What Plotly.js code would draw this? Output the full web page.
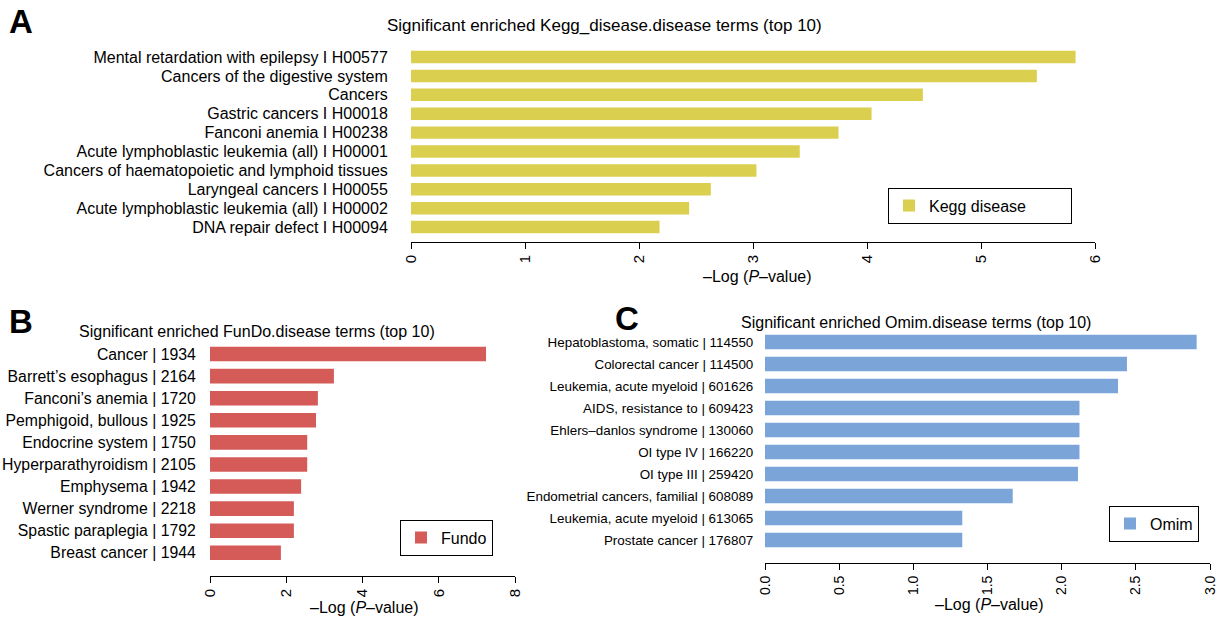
<!DOCTYPE html>
<html>
<head>
<meta charset="utf-8">
<script src="https://cdn.plot.ly/plotly-3.0.1.min.js"></script>
<style>html,body{margin:0;padding:0;background:#fff;}#chart{width:1223px;height:619px;}</style>
</head>
<body>
<div id="chart"></div>
<script>
// Panel A: KEGG disease
const keggTerms = [
  "Mental retardation with epilepsy I H00577",
  "Cancers of the digestive system",
  "Cancers",
  "Gastric cancers I H00018",
  "Fanconi anemia I H00238",
  "Acute lymphoblastic leukemia (all) I H00001",
  "Cancers of haematopoietic and lymphoid tissues",
  "Laryngeal cancers I H00055",
  "Acute lymphoblastic leukemia (all) I H00002",
  "DNA repair defect I H00094"
];
const keggValues = [5.83, 5.49, 4.49, 4.04, 3.75, 3.41, 3.03, 2.63, 2.44, 2.18];

// Panel B: FunDo
const fundoTerms = [
  "Cancer | 1934",
  "Barrett\u2019s esophagus | 2164",
  "Fanconi\u2019s anemia | 1720",
  "Pemphigoid, bullous | 1925",
  "Endocrine system | 1750",
  "Hyperparathyroidism | 2105",
  "Emphysema | 1942",
  "Werner syndrome | 2218",
  "Spastic paraplegia | 1792",
  "Breast cancer | 1944"
];
const fundoValues = [7.24, 3.25, 2.83, 2.78, 2.55, 2.55, 2.39, 2.20, 2.20, 1.86];

// Panel C: OMIM
const omimTerms = [
  "Hepatoblastoma, somatic | 114550",
  "Colorectal cancer | 114500",
  "Leukemia, acute myeloid | 601626",
  "AIDS, resistance to | 609423",
  "Ehlers\u2013danlos syndrome | 130060",
  "OI type IV | 166220",
  "OI type III | 259420",
  "Endometrial cancers, familial | 608089",
  "Leukemia, acute myeloid | 613065",
  "Prostate cancer | 176807"
];
const omimValues = [2.91, 2.44, 2.38, 2.12, 2.12, 2.12, 2.11, 1.67, 1.33, 1.33];

const W = 1223, H = 619;
const px = v => v / W;
const py = v => 1 - v / H;
const FONT = "Liberation Sans, Arial, sans-serif";

const traces = [
  {type:'bar', orientation:'h', x:keggValues, y:keggTerms, name:'Kegg disease',
   marker:{color:'#DBCF50'}, xaxis:'x', yaxis:'y', legend:'legend'},
  {type:'bar', orientation:'h', x:fundoValues, y:fundoTerms, name:'Fundo',
   marker:{color:'#D45B58'}, xaxis:'x2', yaxis:'y2', legend:'legend2'},
  {type:'bar', orientation:'h', x:omimValues, y:omimTerms, name:'Omim',
   marker:{color:'#7BA4D9'}, xaxis:'x3', yaxis:'y3', legend:'legend3'}
];

function xax(domain, range, dtick, anchor, fmt, size){
  return {domain:domain, range:range, dtick:dtick, tick0:0, anchor:anchor,
    showline:true, linecolor:'#000', linewidth:1, ticks:'outside', ticklen:6,
    tickcolor:'#000', tickangle:-90, showgrid:false, zeroline:false,
    tickformat:fmt, tickfont:{size:size, family:FONT, color:'#000'}, fixedrange:true};
}
function yax(domain, range, anchor, terms, size, gap){
  return {domain:domain, range:range, anchor:anchor, type:'category',
    tickmode:'array', tickvals:terms, ticktext:terms,
    showline:false, showgrid:false, zeroline:false, ticks:'outside',
    ticklen:gap, tickcolor:'rgba(0,0,0,0)',
    tickfont:{size:size, family:FONT, color:'#000'}, fixedrange:true};
}

const legBase = {xanchor:'left', yanchor:'middle', bordercolor:'#000', borderwidth:1,
  bgcolor:'#fff', font:{size:16, family:FONT}, orientation:'h'};

const layout = {
  width:W, height:H,
  margin:{l:0, r:0, t:0, b:0},
  paper_bgcolor:'#fff', plot_bgcolor:'#fff',
  font:{family:FONT, color:'#000', size:16},
  bargap:0.34,
  xaxis:  xax([px(411), px(1095)], [0, 6], 1, 'y', 'd', 15),
  yaxis:  yax([py(242), py(47.6)], [9.79, -0.5], 'x', keggTerms, 16, 19),
  xaxis2: xax([px(210), px(515)], [0, 8], 2, 'y2', 'd', 15),
  yaxis2: yax([py(576), py(343)], [10.05, -0.5], 'x2', fundoTerms, 15.8, 10),
  xaxis3: xax([px(765), px(1210)], [0, 3], 0.5, 'y3', '.1f', 14),
  yaxis3: yax([py(563), py(331)], [10.05, -0.5], 'x3', omimTerms, 13.4, 8),
  legend:  Object.assign({}, legBase, {x:px(888), y:py(205.5), entrywidth:137}),
  legend2: Object.assign({}, legBase, {x:px(400), y:py(537.5)}),
  legend3: Object.assign({}, legBase, {x:px(1109), y:py(523.5), itemwidth:30}),
  showlegend:true,
  annotations:[
    {text:'<b>A</b>', x:px(7), y:py(22), xref:'paper', yref:'paper', xanchor:'left', yanchor:'middle', showarrow:false, font:{size:33, family:FONT}},
    {text:'<b>B</b>', x:px(7), y:py(321), xref:'paper', yref:'paper', xanchor:'left', yanchor:'middle', showarrow:false, font:{size:33, family:FONT}},
    {text:'<b>C</b>', x:px(613), y:py(318), xref:'paper', yref:'paper', xanchor:'left', yanchor:'middle', showarrow:false, font:{size:33, family:FONT}},
    {text:'Significant enriched Kegg_disease.disease terms (top 10)', x:px(604), y:py(25), xref:'paper', yref:'paper', xanchor:'center', yanchor:'middle', showarrow:false, font:{size:17, family:FONT}},
    {text:'Significant enriched FunDo.disease terms (top 10)', x:px(257), y:py(331), xref:'paper', yref:'paper', xanchor:'center', yanchor:'middle', showarrow:false, font:{size:16, family:FONT}},
    {text:'Significant enriched Omim.disease terms (top 10)', x:px(916), y:py(322), xref:'paper', yref:'paper', xanchor:'center', yanchor:'middle', showarrow:false, font:{size:16, family:FONT}},
    {text:'\u2013Log (<i>P</i>\u2013value)', x:px(757), y:py(277), xref:'paper', yref:'paper', xanchor:'center', yanchor:'middle', showarrow:false, font:{size:16, family:FONT}},
    {text:'\u2013Log (<i>P</i>\u2013value)', x:px(364), y:py(607), xref:'paper', yref:'paper', xanchor:'center', yanchor:'middle', showarrow:false, font:{size:16, family:FONT}},
    {text:'\u2013Log (<i>P</i>\u2013value)', x:px(989), y:py(604), xref:'paper', yref:'paper', xanchor:'center', yanchor:'middle', showarrow:false, font:{size:16, family:FONT}}
  ]
};

Plotly.newPlot('chart', traces, layout, {displayModeBar:false, staticPlot:true});
</script>
</body>
</html>
